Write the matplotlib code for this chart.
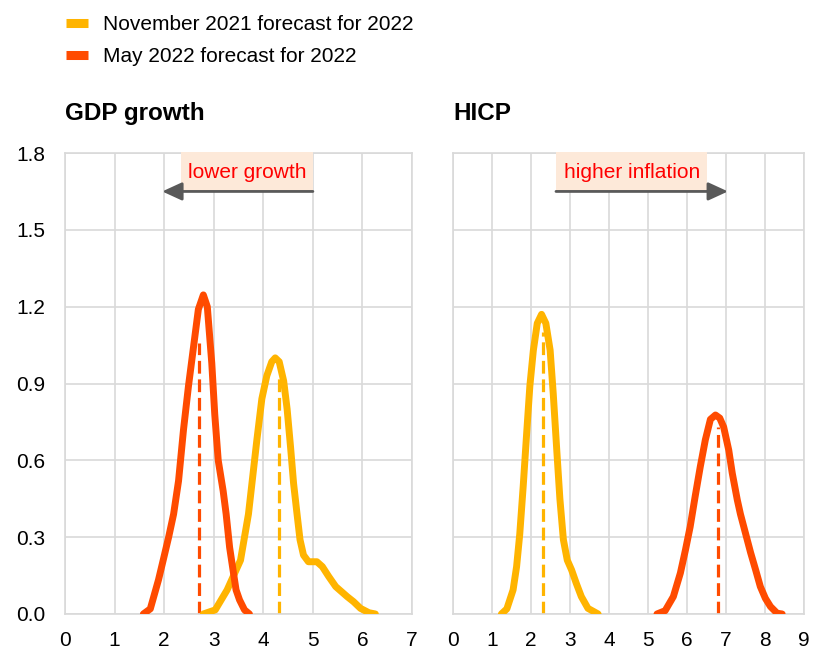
import matplotlib
matplotlib.use("Agg")
import matplotlib.pyplot as plt
from matplotlib.lines import Line2D
from matplotlib.patches import Rectangle

plt.rcParams['font.family'] = ['Liberation Sans', 'DejaVu Sans']

YELLOW = '#FFB400'
RED = '#FF4B00'
GRID = '#d9d9d9'

# GDP growth densities
gdp_nov_x = [2.79, 3.03, 3.27, 3.54, 3.70, 3.87, 3.97, 4.07, 4.17, 4.24, 4.32, 4.41, 4.48, 4.55, 4.61, 4.68, 4.74, 4.81, 4.91, 5.08, 5.19, 5.32, 5.46, 5.69, 5.82, 5.96, 6.13, 6.26]
gdp_nov_y = [0.00, 0.016, 0.094, 0.21, 0.39, 0.68, 0.84, 0.93, 0.985, 1.00, 0.985, 0.91, 0.80, 0.65, 0.51, 0.39, 0.29, 0.23, 0.204, 0.204, 0.185, 0.146, 0.107, 0.068, 0.048, 0.022, 0.005, 0.00]
gdp_may_x = [1.58, 1.72, 1.885, 1.98, 2.09, 2.19, 2.29, 2.39, 2.49, 2.59, 2.69, 2.79, 2.87, 2.96, 3.02, 3.09, 3.19, 3.25, 3.32, 3.39, 3.45, 3.52, 3.62, 3.72]
gdp_may_y = [0.00, 0.02, 0.133, 0.21, 0.30, 0.39, 0.52, 0.72, 0.89, 1.04, 1.19, 1.246, 1.20, 0.98, 0.78, 0.60, 0.48, 0.39, 0.26, 0.17, 0.094, 0.055, 0.016, 0.00]

# HICP densities
hicp_nov_x = [1.24, 1.38, 1.54, 1.63, 1.71, 1.80, 1.89, 1.97, 2.06, 2.16, 2.27, 2.38, 2.49, 2.57, 2.66, 2.74, 2.83, 2.93, 3.04, 3.16, 3.29, 3.46, 3.72]
hicp_nov_y = [0.00, 0.02, 0.094, 0.185, 0.31, 0.50, 0.71, 0.89, 1.03, 1.135, 1.17, 1.135, 1.03, 0.86, 0.64, 0.45, 0.29, 0.21, 0.172, 0.12, 0.068, 0.022, 0.00]
hicp_may_x = [5.23, 5.44, 5.65, 5.83, 5.96, 6.08, 6.21, 6.34, 6.47, 6.60, 6.73, 6.84, 6.94, 7.07, 7.16, 7.29, 7.37, 7.50, 7.63, 7.76, 7.88, 8.01, 8.14, 8.31, 8.44]
hicp_may_y = [0.00, 0.013, 0.068, 0.16, 0.25, 0.34, 0.46, 0.575, 0.68, 0.76, 0.777, 0.765, 0.73, 0.64, 0.55, 0.445, 0.39, 0.315, 0.24, 0.172, 0.107, 0.061, 0.029, 0.003, 0.00]

# medians (dashed lines): position, height
gdp_nov_med = (4.31, 0.92)
gdp_may_med = (2.71, 1.06)
hicp_nov_med = (2.31, 1.10)
hicp_may_med = (6.79, 0.73)

fig = plt.figure(figsize=(8.21, 6.52), dpi=100)
ax1 = fig.add_axes([0.0792, 0.0583, 0.4227, 0.707])
ax2 = fig.add_axes([0.5518, 0.0583, 0.4275, 0.707])

def style(ax, xmax, ylabels):
    ax.set_xlim(0, xmax)
    ax.set_ylim(0, 1.8)
    ax.set_xticks(range(0, xmax + 1))
    ax.set_yticks([0, 0.3, 0.6, 0.9, 1.2, 1.5, 1.8])
    if ylabels:
        ax.set_yticklabels(['0.0', '0.3', '0.6', '0.9', '1.2', '1.5', '1.8'])
    else:
        ax.set_yticklabels([])
    ax.grid(True, color=GRID, lw=1.2)
    ax.set_axisbelow(True)
    for s in ax.spines.values():
        s.set_color(GRID)
        s.set_linewidth(1.2)
    ax.tick_params(length=0, labelsize=15, pad=12, colors='black')
    ax.tick_params(axis='y', pad=14)

style(ax1, 7, True)
style(ax2, 9, False)

for ax, nx, ny, mx, my, nmed, mmed in [
    (ax1, gdp_nov_x, gdp_nov_y, gdp_may_x, gdp_may_y, gdp_nov_med, gdp_may_med),
    (ax2, hicp_nov_x, hicp_nov_y, hicp_may_x, hicp_may_y, hicp_nov_med, hicp_may_med),
]:
    ax.plot([nmed[0], nmed[0]], [0, nmed[1]], color=YELLOW, lw=2.3, ls=(0, (4, 1.8)), zorder=2)
    ax.plot([mmed[0], mmed[0]], [0, mmed[1]], color=RED, lw=2.3, ls=(0, (4, 1.8)), zorder=2)
    ax.plot(nx, ny, color=YELLOW, lw=5, solid_capstyle='round', solid_joinstyle='round', zorder=3)
    ax.plot(mx, my, color=RED, lw=5, solid_capstyle='round', solid_joinstyle='round', zorder=3)

# annotations
ax1.add_patch(Rectangle((2.34, 1.65), 2.66, 0.155, facecolor='#fde9d9', edgecolor='none', zorder=4, clip_on=False))
ax1.text(3.67, 1.725, 'lower growth', color='red', fontsize=15, ha='center', va='center', zorder=5)
ax1.annotate('', xy=(1.96, 1.65), xytext=(5.0, 1.65),
             arrowprops=dict(arrowstyle='-|>,head_length=1.2,head_width=0.55', color='#595959', lw=2, shrinkA=0, shrinkB=0), zorder=5)

ax2.add_patch(Rectangle((2.64, 1.65), 3.88, 0.155, facecolor='#fde9d9', edgecolor='none', zorder=4, clip_on=False))
ax2.text(4.58, 1.725, 'higher inflation', color='red', fontsize=15, ha='center', va='center', zorder=5)
ax2.annotate('', xy=(7.05, 1.65), xytext=(2.64, 1.65),
             arrowprops=dict(arrowstyle='-|>,head_length=1.2,head_width=0.55', color='#595959', lw=2, shrinkA=0, shrinkB=0), zorder=5)

ax1.set_title('GDP growth', loc='left', fontsize=17.5, fontweight='bold', pad=23.5, x=0.0)
ax2.set_title('HICP', loc='left', fontsize=17.5, fontweight='bold', pad=23.5, x=0.0)

handles = [Line2D([], [], color=YELLOW, lw=6.5, solid_capstyle='butt'),
           Line2D([], [], color=RED, lw=6.5, solid_capstyle='butt')]
fig.legend(handles, ['November 2021 forecast for 2022', 'May 2022 forecast for 2022'],
           loc='upper left', bbox_to_anchor=(0.058, 1.005), frameon=False, fontsize=15,
           handlelength=1.05, handletextpad=0.72, labelspacing=0.6)

fig.savefig('out.png', dpi=100)
